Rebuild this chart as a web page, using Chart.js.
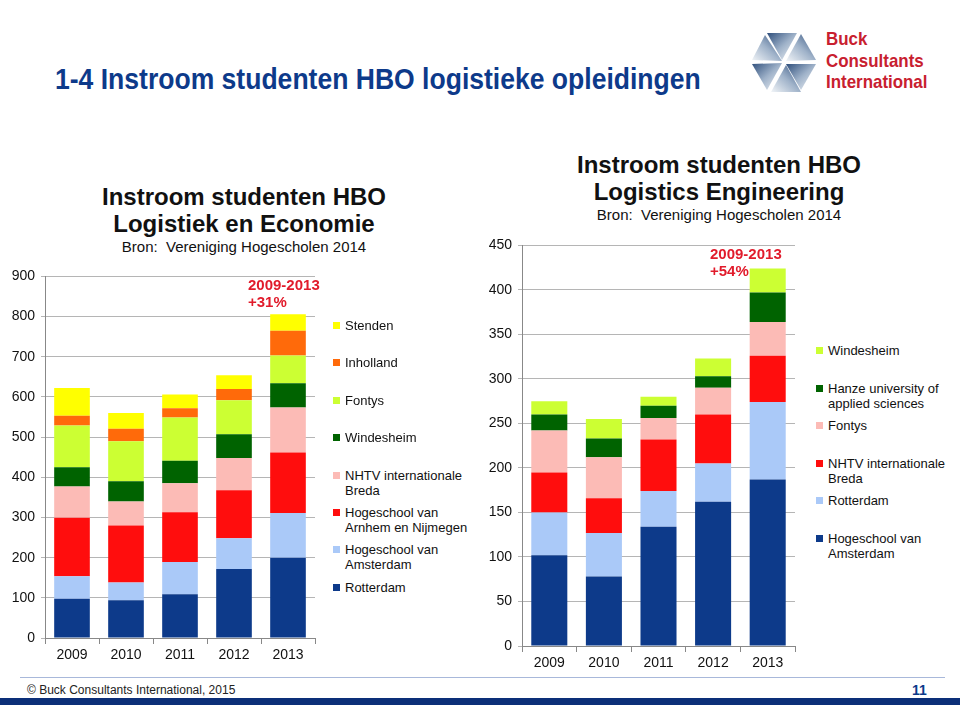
<!DOCTYPE html>
<html>
<head>
<meta charset="utf-8">
<script src="https://cdn.jsdelivr.net/npm/chart.js@4.4.1/dist/chart.umd.min.js"></script>
<style>
  body { margin: 0; width: 960px; height: 705px; background: #fff; position: relative; overflow: hidden; font-family: "Liberation Sans", Arial, sans-serif; }
  .abs { position: absolute; }
  #mainTitle { left: 55px; top: 63px; font-weight: bold; font-size: 29px; color: #0d3a8a; white-space: nowrap; transform: scaleX(0.915); transform-origin: 0 0; }
  .ctitle { text-align: center; color: #111; white-space: nowrap; }
  .ctitle .big { font-weight: bold; font-size: 24px; line-height: 27px; }
  .ctitle .small { font-size: 15px; line-height: 19px; }
  .note { color: #e11b2b; font-weight: bold; font-size: 15px; line-height: 17px; white-space: nowrap; }
  .legend .item { position: absolute; font-size: 13px; line-height: 15px; color: #111; }
  .legend .sq { position: absolute; width: 7px; height: 7px; left: 0; top: 4px; }
  .legend .txt { position: absolute; left: 12px; top: 0; }
  #logoText { left: 826px; top: 28px; color: #c8202f; font-weight: bold; font-size: 19px; line-height: 21.5px; transform: scaleX(0.89); transform-origin: 0 0; }
  #footLine { left: 20px; top: 677px; width: 925px; height: 1px; background: #a8b8da; }
  #footText { left: 27px; top: 683px; font-size: 12px; color: #222; }
  #pageNo { left: 912px; top: 682px; font-size: 14px; font-weight: bold; color: #0d3a8a; }
  #footBand { left: 0; top: 698px; width: 960px; height: 7px; background: #0c2f78; }
</style>
</head>
<body>

<div id="mainTitle" class="abs">1-4 Instroom studenten HBO logistieke opleidingen</div>

<svg class="abs" style="left:748px;top:28px" width="72" height="68" viewBox="0 0 72 68">
  <defs>
    <linearGradient id="g1" x1="0" y1="0" x2="1" y2="1">
      <stop offset="0" stop-color="#2f4f7c"/>
      <stop offset="0.5" stop-color="#9fb2c9"/>
      <stop offset="1" stop-color="#f2f5f8"/>
    </linearGradient>
    <linearGradient id="g2" x1="1" y1="0" x2="0" y2="1">
      <stop offset="0" stop-color="#2f4f7c"/>
      <stop offset="0.5" stop-color="#9fb2c9"/>
      <stop offset="1" stop-color="#f2f5f8"/>
    </linearGradient>
  </defs>
  <g transform="translate(36,34)">
    <polygon points="-2,-2 -17,-29 13,-29" fill="url(#g1)"/>
    <polygon points="2,-1 17,-28 32,-2" fill="url(#g2)"/>
    <polygon points="2,2 32,2 17,28" fill="url(#g1)"/>
    <polygon points="2,3 17,30 -13,30" fill="url(#g2)"/>
    <polygon points="-2,1 -17,28 -32,2" fill="url(#g1)"/>
    <polygon points="-2,-1 -32,-2 -19,-27" fill="url(#g2)"/>
  </g>
</svg>
<div id="logoText" class="abs">Buck<br>Consultants<br>International</div>

<div class="abs ctitle" style="left:94px;top:183px;width:300px">
  <div class="big">Instroom studenten HBO</div>
  <div class="big">Logistiek en Economie</div>
  <div class="small">Bron:&nbsp; Vereniging Hogescholen 2014</div>
</div>
<div class="abs ctitle" style="left:569px;top:151px;width:300px">
  <div class="big">Instroom studenten HBO</div>
  <div class="big">Logistics Engineering</div>
  <div class="small">Bron:&nbsp; Vereniging Hogescholen 2014</div>
</div>

<div class="abs" style="left:0;top:262px;width:320px;height:408px"><canvas id="leftChart"></canvas></div>
<div class="abs" style="left:480px;top:231px;width:320px;height:447px"><canvas id="rightChart"></canvas></div>

<div class="abs note" style="left:248px;top:276px">2009-2013<br>+31%</div>
<div class="abs note" style="left:710px;top:245px">2009-2013<br>+54%</div>

<div id="leftLegend" class="abs legend" style="left:333px;top:318px;width:140px;height:300px"></div>
<div id="rightLegend" class="abs legend" style="left:816px;top:343px;width:140px;height:260px"></div>

<div id="footLine" class="abs"></div>
<div id="footText" class="abs">&copy; Buck Consultants International, 2015</div>
<div id="pageNo" class="abs">11</div>
<div id="footBand" class="abs"></div>

<script>
// categories
const years = ['2009', '2010', '2011', '2012', '2013'];

// left chart: Logistiek en Economie (bottom to top)
const leftRotterdam   = [98, 94, 109, 172, 200];
const leftHvA         = [56, 44, 80, 76, 111];
const leftHAN         = [145, 142, 124, 120, 151];
const leftNHTV        = [78, 60, 72, 80, 112];
const leftWindesheim  = [48, 50, 56, 59, 60];
const leftFontys      = [104, 100, 108, 85, 69];
const leftInholland   = [24, 31, 23, 28, 62];
const leftStenden     = [69, 39, 34, 34, 41];

// right chart: Logistics Engineering (bottom to top)
const rightHvA        = [102, 78, 134, 162, 187];
const rightRotterdam  = [48, 49, 40, 43, 87];
const rightNHTV       = [45, 39, 58, 55, 52];
const rightFontys     = [47, 46, 24, 30, 38];
const rightHanze      = [18, 21, 14, 13, 33];
const rightWindesheim = [15, 22, 10, 20, 27];

const leftTicks = [0, 100, 200, 300, 400, 500, 600, 700, 800, 900];
const rightTicks = [0, 50, 100, 150, 200, 250, 300, 350, 400, 450];

const colDarkBlue = '#0d3a8a';
const colLightBlue = '#aac9f8';
const colRed = '#ff0d0d';
const colPink = '#fcbbb6';
const colGreen = '#006300';
const colLime = '#ccff33';
const colOrange = '#ff6a0a';
const colYellow = '#ffff00';

const leftSets = [
    { label: 'Rotterdam', data: leftRotterdam, backgroundColor: colDarkBlue },
    { label: 'Hogeschool van Amsterdam', data: leftHvA, backgroundColor: colLightBlue },
    { label: 'Hogeschool van Arnhem en Nijmegen', data: leftHAN, backgroundColor: colRed },
    { label: 'NHTV internationale Breda', data: leftNHTV, backgroundColor: colPink },
    { label: 'Windesheim', data: leftWindesheim, backgroundColor: colGreen },
    { label: 'Fontys', data: leftFontys, backgroundColor: colLime },
    { label: 'Inholland', data: leftInholland, backgroundColor: colOrange },
    { label: 'Stenden', data: leftStenden, backgroundColor: colYellow }
];

const rightSets = [
    { label: 'Hogeschool van Amsterdam', data: rightHvA, backgroundColor: colDarkBlue },
    { label: 'Rotterdam', data: rightRotterdam, backgroundColor: colLightBlue },
    { label: 'NHTV internationale Breda', data: rightNHTV, backgroundColor: colRed },
    { label: 'Fontys', data: rightFontys, backgroundColor: colPink },
    { label: 'Hanze university of applied sciences', data: rightHanze, backgroundColor: colGreen },
    { label: 'Windesheim', data: rightWindesheim, backgroundColor: colLime }
];

function makeConfig(sets, ticks, max, yWidth) {
    return {
        type: 'bar',
        data: {
            labels: years,
            datasets: sets.map(function (s) {
                return Object.assign({ barPercentage: 0.66, categoryPercentage: 1.0, borderWidth: 0 }, s);
            })
        },
        options: {
            responsive: true,
            maintainAspectRatio: false,
            animation: false,
            layout: { padding: { top: 10, right: 5, left: 0, bottom: 0 } },
            plugins: { legend: { display: false }, tooltip: { enabled: false } },
            scales: {
                x: {
                    stacked: true,
                    grid: { offset: true, drawOnChartArea: false, tickLength: 6, color: '#888' },
                    border: { color: '#888' },
                    ticks: { color: '#111', font: { size: 14, family: 'Liberation Sans, Arial' }, padding: 3 },
                    afterFit: function (scale) { scale.height = 32; }
                },
                y: {
                    stacked: true,
                    min: 0,
                    max: max,
                    afterBuildTicks: function (scale) { scale.ticks = ticks.map(function (v) { return { value: v }; }); },
                    grid: { color: '#b5b5b5', tickLength: 4 },
                    border: { color: '#888' },
                    ticks: { color: '#111', font: { size: 14, family: 'Liberation Sans, Arial' }, padding: 6 },
                    afterFit: function (scale) { scale.width = yWidth; }
                }
            }
        }
    };
}

function buildLegend(id, sets, step) {
    const box = document.getElementById(id);
    const items = sets.slice().reverse();
    items.forEach(function (s, i) {
        const item = document.createElement('div');
        item.className = 'item';
        item.style.top = (i * step) + 'px';
        item.style.width = (id === 'leftLegend' ? 140 : 135) + 'px';
        const sq = document.createElement('div');
        sq.className = 'sq';
        sq.style.background = s.backgroundColor;
        const txt = document.createElement('div');
        txt.className = 'txt';
        txt.style.width = (id === 'leftLegend' ? 128 : 124) + 'px';
        txt.textContent = s.label;
        item.appendChild(sq);
        item.appendChild(txt);
        box.appendChild(item);
    });
}

window.addEventListener('load', function () {
    new Chart(document.getElementById('leftChart').getContext('2d'), makeConfig(leftSets, leftTicks, 900, 45));
    new Chart(document.getElementById('rightChart').getContext('2d'), makeConfig(rightSets, rightTicks, 450, 42));
    buildLegend('leftLegend', leftSets, 37.4);
    buildLegend('rightLegend', rightSets, 37.5);
});
</script>
</body>
</html>
